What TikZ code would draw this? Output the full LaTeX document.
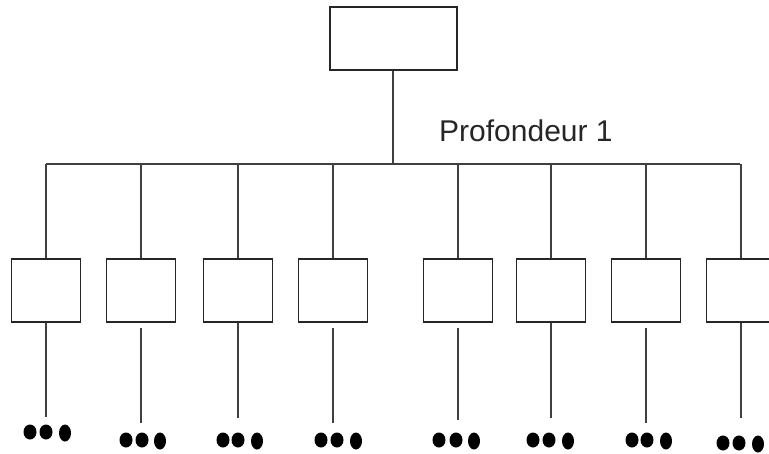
\documentclass[tikz,border=0pt]{standalone}
\usepackage{fontspec}
\setmainfont{Liberation Sans}
\usetikzlibrary{shapes.geometric}
\begin{document}
\begin{tikzpicture}[x=1pt,y=-1pt,
  boxnode/.style={draw=black!85,line width=1.6pt,fill=white,minimum width=69pt,minimum height=63pt,inner sep=0pt},
  topbox/.style={boxnode,minimum width=127pt},
  wire/.style={draw=black!75,line width=1.6pt},
  dotnode/.style={ellipse,fill=black,minimum width=13pt,minimum height=15pt,inner sep=0pt},
  bigdot/.style={dotnode,minimum width=12pt,minimum height=17pt}]
\useasboundingbox (0,0) rectangle (769,453);
\clip (0,0) rectangle (769,453);
\node[topbox] (root) at (393.5,38.5) {};
\coordinate (hub) at (393,164);
\coordinate (barL) at (46,164);
\coordinate (barR) at (740,164);
\draw[wire] (root.south -| hub) -- (hub);
\draw[wire] (barL) -- (barR);
\node[font=\fontsize{30}{35}\selectfont,anchor=base west,inner sep=0pt,text=black!85] (lbl) at (439,141) {Profondeur 1};
% children: name/x/gap/end/dotsy/d1/d2/d3
\foreach \n/\x/\g/\e/\dy/\da/\db/\dc in {
  1/46/0/417/432/30/46/65,
  2/141/5/423/440/126/142/160,
  3/238/0/418/440/223/238/257,
  4/333/5/423/440/321/337/356,
  5/458/5/420/440/439/456/474,
  6/551/0/418/440/533/549/568,
  7/646/5/423/440/632/647/666,
  8/741/0/418/443/723/739/758}{
  \coordinate (t\n) at (\x,164);
  \node[boxnode] (c\n) at (\x,290.5) {};
  \coordinate (e\n) at (\x,\e);
  \draw[wire] (t\n) -- (c\n.north);
  \draw[wire,shorten <=\g pt] (c\n.south) -- (e\n);
  \node[dotnode] (da\n) at (\da,\dy) {};
  \node[dotnode] (db\n) at (\db,\dy) {};
  \node[bigdot] (dc\n) at (\dc,\dy+1) {};
}
\end{tikzpicture}
\end{document}
